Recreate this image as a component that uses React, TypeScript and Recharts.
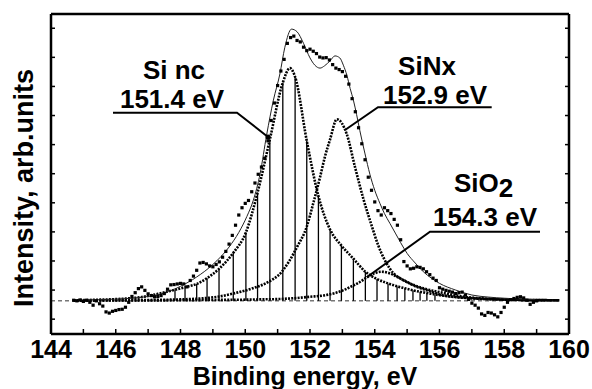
import React from 'react';
import { ComposedChart, Line, Scatter, XAxis, YAxis, ReferenceLine } from 'recharts';

const W = 592;
const H = 389;
const FONT = '"Liberation Sans", Arial, Helvetica, sans-serif';

// axis ticks (x every 1 eV, labels every 2 eV; y ticks unlabelled)
const X_TICKS = [144, 145, 146, 147, 148, 149, 150, 151, 152, 153, 154, 155, 156, 157, 158, 159, 160];
const Y_TICKS = [-0.63, 0.37, 1.37, 2.37, 3.37, 4.37, 5.37, 6.37, 7.37, 8.37, 9.37];
const Y_DOMAIN = [-1.14, 9.86];

// measured spectrum, 144.7 .. 159.0 eV, step 0.1 eV
const RAW_START = 144.7;
const RAW_STEP = 0.1;
const RAW_V = [
  0.02, 0.0, 0.03, -0.02, 0.02, -0.05, -0.15, 0.0, -0.1, -0.18,
  -0.38, -0.42, -0.36, -0.33, -0.3, -0.29, -0.22, -0.05, 0.15, 0.28,
  0.42, 0.48, 0.36, 0.24, 0.18, 0.14, 0.15, 0.18, 0.25, 0.4,
  0.55, 0.56, 0.58, 0.6, 0.58, 0.48, 0.7, 0.85, 1.05, 1.3,
  1.32, 1.27, 1.2, 1.17, 1.25, 1.34, 1.5, 1.7, 1.95, 2.25,
  2.6, 2.95, 3.2, 3.35, 3.45, 3.75, 4.05, 4.35, 4.6, 4.9,
  5.5, 6.2, 6.8, 7.4, 7.9, 8.3, 8.85, 9.05, 9.1, 8.95,
  8.9, 8.72, 8.6, 8.65, 8.58, 8.5, 8.38, 8.35, 8.36, 8.28,
  8.12, 8.0, 7.95, 7.88, 7.72, 7.45, 6.95, 6.5, 5.95, 5.4,
  4.85, 4.25, 3.8, 3.4, 3.1, 2.95, 3.2, 3.1, 3.0, 2.8,
  2.6, 2.1, 1.35, 1.2, 1.1, 1.12, 1.17, 1.15, 1.1, 1.0,
  0.9, 0.78, 0.7, 0.45, 0.4, 0.36, 0.33, 0.3, 0.25, 0.28,
  0.3, 0.2, 0.05, -0.08, -0.15, -0.25, -0.45, -0.5, -0.4, -0.42,
  -0.48, -0.55, -0.4, -0.22, -0.05, 0.04, 0.08, 0.12, 0.14, 0.1,
  0.02, -0.12, -0.05, 0.0,
];

// envelope (thin line)
const ENV_E = [
  144.7, 145.5, 146.0, 146.5, 147.0, 147.5, 148.0, 148.5, 149.0, 149.5,
  149.8, 150.05, 150.25, 150.46, 150.66, 150.87, 151.07, 151.22, 151.43, 151.6,
  151.8, 152.0, 152.15, 152.31, 152.45, 152.62, 152.77, 152.92, 153.03, 153.14,
  153.24, 153.34, 153.44, 153.54, 153.7, 153.85, 154.0, 154.16, 154.3, 154.47,
  154.65, 154.8, 155.0, 155.25, 155.5, 155.75, 156.0, 156.5, 157.0, 157.5,
  158.0, 158.5, 159.0,
];
const ENV_V = [
  0.02, 0.04, 0.06, 0.09, 0.15, 0.27, 0.5, 0.82, 1.25, 1.85,
  2.35, 2.9, 3.46, 4.38, 5.7, 6.9, 7.8, 8.7, 9.34, 9.25,
  8.85, 8.35, 8.1, 8.0, 8.08, 8.25, 8.42, 8.35, 8.1, 7.75,
  7.3, 6.9, 6.4, 5.85, 5.05, 4.35, 3.8, 3.35, 3.0, 2.66,
  2.3, 2.0, 1.63, 1.3, 1.0, 0.78, 0.6, 0.37, 0.2, 0.13,
  0.09, 0.06, 0.04,
];

// Si nc component, 151.4 eV
const SINC_E = [
  144.7, 145.5, 146.2, 146.8, 147.3, 147.83, 148.14, 148.5, 148.82, 149.19,
  149.63, 150.02, 150.38, 150.76, 151.16, 151.38, 151.54, 151.9, 152.26, 152.62,
  152.97, 153.34, 153.71, 154.07, 154.41, 154.69, 154.93, 155.18, 155.4, 155.61,
  155.86, 156.3, 157.0, 157.8, 158.7, 159.7,
];
const SINC_V = [
  0.02, 0.04, 0.07, 0.13, 0.24, 0.38, 0.47, 0.58, 0.78, 1.1,
  1.65, 2.35, 3.72, 5.55, 7.5, 8.0, 7.7, 5.5, 3.6, 2.45,
  1.9, 1.45, 1.0, 0.75, 0.6, 0.5, 0.43, 0.36, 0.31, 0.27,
  0.22, 0.15, 0.09, 0.05, 0.03, 0.02,
];
// energies where the Si nc peak has drop lines
const DROP_E = [
  147.83, 148.14, 148.5, 148.82, 149.19, 149.63, 150.02, 150.38, 150.76, 151.16,
  151.54, 151.9, 152.26, 152.62, 152.97, 153.34, 153.71, 154.07, 154.41, 154.69,
  154.93, 155.18, 155.4, 155.61, 155.86,
];

// SiNx component, 152.9 eV
const SINX_E = [
  144.7, 146.0, 147.0, 148.0, 148.6, 149.2, 149.63, 150.2, 150.66, 151.13,
  151.35, 151.6, 151.9, 152.1, 152.31, 152.46, 152.62, 152.83, 153.13, 153.39,
  153.65, 153.9, 154.11, 154.47, 155.0, 155.5, 156.0, 156.7, 157.5, 158.3,
  159.7,
];
const SINX_V = [
  0.01, 0.02, 0.03, 0.05, 0.08, 0.15, 0.25, 0.42, 0.62, 1.0,
  1.35, 1.85, 2.55, 3.35, 4.25, 4.95, 5.55, 6.24, 5.75, 4.6,
  3.5, 2.6, 1.9, 1.1, 0.65, 0.43, 0.3, 0.15, 0.07, 0.04,
  0.02,
];

// SiO2 component, 154.3 eV
const SIO2_E = [
  144.7, 146.0, 148.0, 149.0, 150.0, 150.5, 151.0, 151.5, 152.0, 152.5,
  153.0, 153.25, 153.5, 153.75, 154.0, 154.21, 154.45, 154.7, 155.0, 155.3,
  155.7, 156.0, 156.3, 156.8, 157.5, 158.0, 159.0, 159.7,
];
const SIO2_V = [
  0.01, 0.01, 0.02, 0.03, 0.04, 0.05, 0.06, 0.09, 0.14, 0.2,
  0.35, 0.48, 0.62, 0.8, 0.95, 1.0, 0.95, 0.82, 0.64, 0.48,
  0.33, 0.22, 0.16, 0.1, 0.06, 0.04, 0.02, 0.02,
];

const pairs = (es: number[], vs: number[]) => es.map((e, i) => ({ e, v: vs[i] }));

const rawData = RAW_V.map((v, i) => ({ e: +(RAW_START + i * RAW_STEP).toFixed(2), v }));
const envData = pairs(ENV_E, ENV_V);
const sincData = pairs(SINC_E, SINC_V);
const sinxData = pairs(SINX_E, SINX_V);
const sio2Data = pairs(SIO2_E, SIO2_V);
const drops = DROP_E.map((e) => ({ e, v: SINC_V[SINC_E.indexOf(e)] }));

// fitted components are drawn as a dense "crosses" trail
const compStyle = {
  stroke: '#000',
  strokeWidth: 2.6,
  strokeDasharray: '2 1.2',
};

const Square = (props: any) => {
  const { cx, cy } = props;
  if (cx == null || cy == null) return null;
  return <rect x={cx - 1.6} y={cy - 1.6} width={3.2} height={3.2} fill="#000" />;
};

export default function App() {
  const axisLine = { stroke: '#000', strokeWidth: 2.5 };
  const tickLine = { stroke: '#000', strokeWidth: 1.5 };
  return (
    <div style={{ position: 'absolute', left: 0, top: 0, width: W, height: H, background: '#fff' }}>
      <ComposedChart width={W} height={H} margin={{ top: 0, right: 0, bottom: 0, left: 0 }}>
        <XAxis
          dataKey="e"
          type="number"
          domain={[144, 160]}
          ticks={X_TICKS}
          interval={0}
          allowDataOverflow
          height={55}
          tickSize={-5}
          tickMargin={11}
          axisLine={axisLine}
          tickLine={tickLine}
          tickFormatter={(v: number) => (v % 2 === 0 ? String(v) : '')}
          tick={{ fill: '#000', fontSize: 25, fontWeight: 700, fontFamily: FONT }}
        />
        <XAxis
          xAxisId="top"
          orientation="top"
          type="number"
          domain={[144, 160]}
          ticks={X_TICKS}
          interval={0}
          allowDataOverflow
          height={14}
          tickSize={-4}
          axisLine={axisLine}
          tickLine={tickLine}
          tickFormatter={() => ''}
        />
        <YAxis
          dataKey="v"
          type="number"
          domain={Y_DOMAIN}
          ticks={Y_TICKS}
          interval={0}
          allowDataOverflow
          width={51}
          tickSize={-4}
          axisLine={axisLine}
          tickLine={tickLine}
          tickFormatter={() => ''}
        />
        <YAxis
          yAxisId="right"
          orientation="right"
          type="number"
          domain={Y_DOMAIN}
          ticks={Y_TICKS}
          interval={0}
          allowDataOverflow
          width={23}
          tickSize={-4}
          axisLine={axisLine}
          tickLine={tickLine}
          tickFormatter={() => ''}
        />

        <ReferenceLine
          segment={[{ x: 144, y: 0 }, { x: 159.7, y: 0 }]}
          stroke="#777"
          strokeWidth={1.5}
          strokeDasharray="4 3"
        />
        {drops.map((d) => (
          <ReferenceLine
            key={d.e}
            segment={[{ x: d.e, y: 0 }, { x: d.e, y: d.v }]}
            stroke="#000"
            strokeWidth={1.3}
          />
        ))}

        <Line data={sio2Data} dataKey="v" type="monotone" {...compStyle} dot={false} activeDot={false} isAnimationActive={false} />
        <Line data={sinxData} dataKey="v" type="monotone" {...compStyle} dot={false} activeDot={false} isAnimationActive={false} />
        <Line data={sincData} dataKey="v" type="monotone" {...compStyle} dot={false} activeDot={false} isAnimationActive={false} />
        <Line data={envData} dataKey="v" type="monotone" stroke="#222" strokeWidth={1} dot={false} activeDot={false} isAnimationActive={false} />
        <Scatter data={rawData} dataKey="v" shape={Square} isAnimationActive={false} />
      </ComposedChart>

      <svg width={W} height={H} style={{ position: 'absolute', left: 0, top: 0, pointerEvents: 'none' }}>
        <g fontFamily={FONT} fontWeight={700} fontSize={26} fill="#000">
          <text x={174} y={78.5} textAnchor="middle">Si nc</text>
          <text x={172} y={108} textAnchor="middle">151.4 eV</text>
          <text x={427} y={75} textAnchor="middle">SiNx</text>
          <text x={435} y={104} textAnchor="middle">152.9 eV</text>
          <text x={454} y={192}>SiO<tspan dy={5}>2</tspan></text>
          <text x={485} y={226} textAnchor="middle">154.3 eV</text>
          <text x={305} y={385} textAnchor="middle" fontSize={25}>Binding energy, eV</text>
          <text transform="translate(33,188) rotate(-90)" textAnchor="middle" fontSize={27}>Intensity, arb.units</text>
        </g>
        <g fill="none" stroke="#000" strokeWidth={2}>
          <polyline points="113,112.7 237,112.7 268,137" />
          <polyline points="491.7,107.3 378,107.3 345,130" />
          <polyline points="540,231.7 430,231.7 366.7,277.3" />
        </g>
        <circle cx={268} cy={137} r={2.5} fill="#000" />
      </svg>
    </div>
  );
}
